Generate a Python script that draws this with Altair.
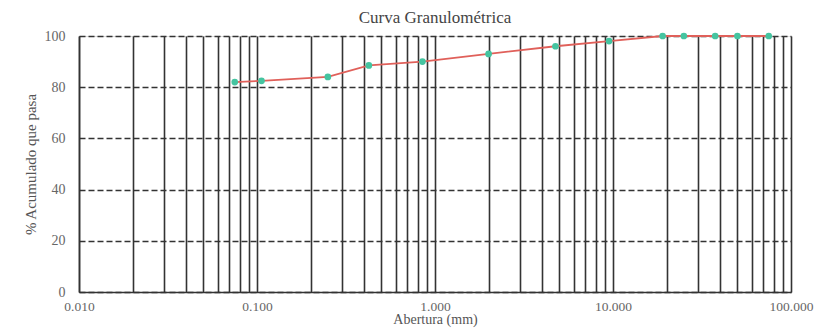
import altair as alt
import pandas as pd

# Sieve openings (mm) and cumulative % passing
aberturas = [0.075, 0.106, 0.25, 0.425, 0.85, 2.0, 4.75, 9.5, 19.0, 25.0, 37.5, 50.0, 75.0]
pasa = [82, 82.5, 84, 88.5, 90, 93, 96, 98, 100, 100, 100, 100, 100]

# log grid lines (1..9 x 10^k)
grid_x = [m * 10.0 ** k for k in range(-2, 2) for m in range(1, 10)] + [100.0]
grid_x = [float(f"{v:.6g}") for v in grid_x]
decades = [0.01, 0.1, 1.0, 10.0, 100.0]
y_ticks = [0, 20, 40, 60, 80, 100]

df = pd.DataFrame({"abertura": aberturas, "pasa": pasa})

font = "Liberation Serif"

x_scale = alt.Scale(type="log", domain=[0.01, 100], nice=False)
y_scale = alt.Scale(domain=[0, 100], nice=False)

x_enc = alt.X(
    "abertura:Q", scale=x_scale,
    axis=alt.Axis(
        values=grid_x, grid=True, gridColor="#333333", gridWidth=1.6, gridOpacity=1,
        labelExpr="indexof([0.01,0.1,1,10,100], datum.value) >= 0 ? format(datum.value, '.3f') : ''",
        ticks=False, domain=True, domainColor="#333333", domainWidth=1.5,
        title="Abertura (mm)", titleFont=font, titleFontSize=14, titleFontWeight="normal",
        titleColor="#555555", titlePadding=0,
        labelFont=font, labelFontSize=13.5, labelColor="#666666", labelPadding=7,
        labelFlush=False, labelOverlap=False,
    ),
)
y_enc = alt.Y(
    "pasa:Q", scale=y_scale,
    axis=alt.Axis(
        values=y_ticks, grid=True, gridColor="#333333", gridWidth=1.5, gridDash=[6, 3], gridOpacity=1,
        ticks=False, domain=True, domainColor="#333333", domainWidth=1.5,
        title="% Acumulado que pasa", titleFont=font, titleFontSize=15, titleFontWeight="normal",
        titleColor="#555555", titlePadding=6,
        labelFont=font, labelFontSize=14, labelColor="#666666", labelPadding=14,
    ),
)

line = alt.Chart(df).mark_line(color="#e0605a", strokeWidth=1.8).encode(x=x_enc, y=y_enc)
pts = alt.Chart(df).mark_point(filled=True, shape="circle", size=45, color="#45c4a0", opacity=1).encode(
    x=alt.X("abertura:Q", scale=x_scale), y=alt.Y("pasa:Q", scale=y_scale)
)

chart = (
    alt.layer(line, pts)
    .properties(
        width=712, height=256,
        title=alt.TitleParams("Curva Granulométrica", font=font, fontSize=17, fontWeight="normal",
                              color="#444444", offset=2, anchor="middle"),
        autosize=alt.AutoSizeParams(type="none"),
        padding={"left": 71, "top": 28, "right": 23, "bottom": 36},
    )
    .configure_view(stroke="#222222", strokeWidth=1.6)
    .configure(background="white")
)

chart.save("out.html", embed_options={"renderer": "svg", "actions": False})
